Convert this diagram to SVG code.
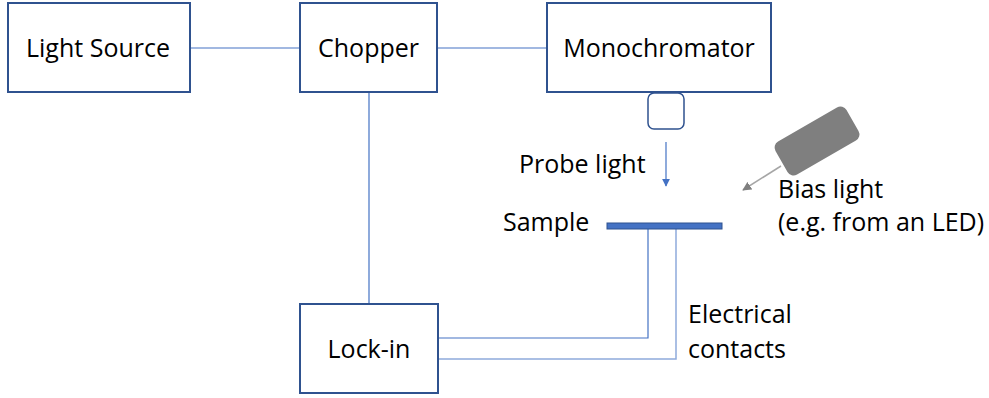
<svg xmlns="http://www.w3.org/2000/svg" width="989" height="398" viewBox="0 0 989 398">
<defs>
<style>
.box{fill:#fff;stroke:#2F528F;stroke-width:2}
.ln{fill:none;stroke:#4472C4;stroke-width:1.2}
.ln2{fill:none;stroke:#8FAADC;stroke-width:1.5}
text{font-family:"Open Sans","Noto Sans",sans-serif;font-size:25px;fill:#000}
.c{text-anchor:middle}
</style>
<marker id="ab" viewBox="0 0 10 10" refX="9" refY="5" markerWidth="8" markerHeight="8" markerUnits="userSpaceOnUse" orient="auto"><path d="M0,0L10,5L0,10z" fill="#4472C4"/></marker>
<marker id="ag" viewBox="0 0 10 10" refX="9" refY="5" markerWidth="9" markerHeight="9" markerUnits="userSpaceOnUse" orient="auto"><path d="M0,0L10,5L0,10z" fill="#7F7F7F"/></marker>
</defs>
<g id="connectors">
<line class="ln" x1="190" y1="48" x2="300" y2="48"/>
<line class="ln" x1="437" y1="48" x2="547" y2="48"/>
<line class="ln" x1="369" y1="92" x2="369" y2="304"/>
<polyline class="ln" points="648,229 648,338 438,338"/>
<polyline class="ln2" points="676,229 676,359 438,359"/>
<line class="ln" x1="666" y1="142" x2="666" y2="186" marker-end="url(#ab)"/>
<line x1="781" y1="166" x2="743" y2="190" stroke="#A6A6A6" stroke-width="1.5" marker-end="url(#ag)"/>
</g>
<g id="light-source"><rect class="box" x="8" y="3" width="182" height="89"/><text class="c" x="98" y="57">Light Source</text></g>
<g id="chopper"><rect class="box" x="300" y="3" width="137" height="89"/><text class="c" x="368.5" y="57">Chopper</text></g>
<g id="monochromator"><rect class="box" x="547" y="3" width="224" height="89"/><text class="c" x="659" y="57">Monochromator</text></g>
<g id="slit"><rect x="648" y="93" width="36" height="36" rx="6" fill="#fff" stroke="#2F528F" stroke-width="1.5"/></g>
<g id="led"><rect x="-41" y="-19" width="82" height="38" rx="7" fill="#7F7F7F" transform="translate(817,141) rotate(-30)"/></g>
<g id="sample"><rect x="607" y="223" width="115" height="6" fill="#4472C4" stroke="#2F528F" stroke-width="1"/><text x="503" y="231">Sample</text></g>
<g id="lock-in"><rect class="box" x="300" y="304" width="138" height="89"/><text class="c" x="369" y="358">Lock-in</text></g>
<g id="labels">
<text x="519" y="173">Probe light</text>
<text x="778" y="198">Bias light</text>
<text x="778" y="231">(e.g. from an LED)</text>
<text x="688" y="323">Electrical</text>
<text x="688" y="358">contacts</text>
</g>
</svg>
